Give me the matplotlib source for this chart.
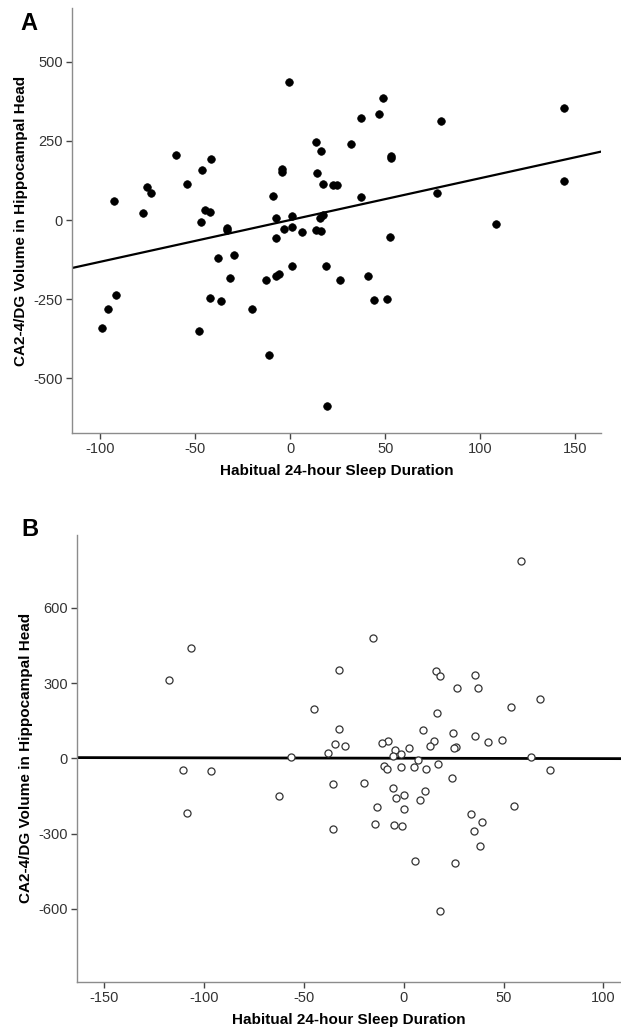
import matplotlib
matplotlib.use("Agg")
import matplotlib.pyplot as plt
import numpy as np

plt.rcParams['axes.unicode_minus'] = False

# ---------------- Panel A data ----------------
a_x = [-92.6, -77.3, -75.5, -73.4, -60.0, -54.4, -46.2, -46.6, -44.7, -42.0,
       -41.4, -33.4, -33.2, -9.1, -7.4, -7.4, -4.5, -4.1, -3.3, -0.8,
       1.0, 1.0, 6.4, 13.6, 14.2, 13.6, 16.3, 16.5, 17.5, 15.9,
       17.3, 22.5, 24.7, 31.8, 37.1, 37.1, 46.6, 49.1, 52.6, 53.2,
       53.2, 77.5, 79.2, 108.2, 144.1, 144.3,
       -37.7, -29.5, 1.0, 18.8, -31.8, -12.6, -7.4, -6.0, 26.4, 41.0,
       -91.8, -95.7, -98.8, -42.0, -36.3, -20.2, -47.8, -11.1, 44.3, 51.1,
       19.6]
a_y = [59.5, 23, 103, 84.6, 203.6, 113.8, 156.6, -6, 32, 25,
       194, -24, -31, 77, 7, -58, 161, 150, -29, 434,
       12.5, -22, -36.5, 245, 149, -32, -34, 217, 113, 5,
       14.6, 111, 111, 241, 321.5, 72, 335, 384, -53, 202.5,
       197, 84.6, 311, -12.5, 354, 123,
       -120, -111.5, -143.7, -144.8, -182, -189.6, -177, -171, -188.5, -176,
       -235.4, -281, -340.6, -247, -255, -280, -350, -427, -253, -248,
       -587.5]
a_fit = (1.32, 0.0)   # slope, intercept
a_xticks = [-100, -50, 0, 50, 100, 150]
a_yticks = [-500, -250, 0, 250, 500]

# ---------------- Panel B data ----------------
b_x = [58.9, -117.4, -106.7, -15.3, -32.5, 16.1, 18.0, 35.5, 26.8, 37.3,
       68.4, 53.9, -45.2, 16.7, -32.5, 9.7, 24.8, 35.7, 15.1, 49.4,
       42.4, -7.7, -10.7, -34.5, -29.5, 12.9, 26.2, 25.0, 2.8, -4.2,
       -1.6, -5.4, -38.0, -56.7, 63.6, 7.1,
       -110.4, -96.4, -9.7, -8.3, -1.2, 5.0, 10.9, 17.0, 73.0, 24.0,
       -35.3, -20.0, -5.2, 10.7, -62.6, 0.2, -4.0, 7.9, 55.3, -108.8,
       -13.5, 0.2, 33.7, 39.1, -14.5, -5.0, -1.0, -35.3, 35.3, 38.1,
       5.4, 25.8, 18.0]
b_y = [787, 312, 439, 479, 353, 350, 329, 330.5, 280, 279,
       235, 206, 195, 179, 118, 114, 99.6, 87.6, 70, 71.7,
       65, 67.7, 59.7, 57, 50.4, 47.8, 45, 40, 42.5, 34.5,
       16, 8, 20, 6.6, 6.6, -6.6,
       -45, -50.4, -30.5, -42.5, -34.5, -35.8, -41, -24, -46.5, -79.6,
       -101, -97, -118, -130, -150, -146, -158, -164.6, -188.5, -216,
       -195, -203, -223, -253.5, -263, -267, -271, -283, -289, -350,
       -410, -417, -607]
b_fit = (-0.015, 0.5)
b_xticks = [-150, -100, -50, 0, 50, 100]
b_yticks = [-600, -300, 0, 300, 600]

xlabel = "Habitual 24-hour Sleep Duration"
ylabel = "CA2-4/DG Volume in Hippocampal Head"

W, H = 621, 1035
fig = plt.figure(figsize=(W / 100, H / 100), dpi=100)

tick_font = ['Liberation Sans Narrow', 'Liberation Sans', 'DejaVu Sans']
lab_font = ['Liberation Sans', 'DejaVu Sans']
spine_col = '#8c8c8c'


def style(ax, xticks, yticks):
    for s in ['top', 'right']:
        ax.spines[s].set_visible(False)
    for s in ['left', 'bottom']:
        ax.spines[s].set_color(spine_col)
        ax.spines[s].set_linewidth(1.0)
    ax.set_xticks(xticks)
    ax.set_yticks(yticks)
    ax.tick_params(direction='out', length=4.5, width=1.0, color='#444444',
                   labelsize=10.5, labelcolor='#333333', pad=2)
    for lab in ax.get_xticklabels() + ax.get_yticklabels():
        lab.set_family(tick_font)
    ax.set_xlabel(xlabel, fontsize=11, fontweight='bold', family=lab_font, labelpad=6)
    ax.set_ylabel(ylabel, fontsize=11, fontweight='bold', family=lab_font, labelpad=4)


# Panel A
axA = fig.add_axes([72 / W, 1 - 433 / H, (601 - 72) / W, (433 - 8) / H])
axA.set_xlim(-114.7, 163.5)
axA.set_ylim(-672, 669)
axA.scatter(a_x, a_y, s=30, c='black', edgecolors='black', linewidths=0.5, zorder=3)
xl = np.array(axA.get_xlim())
axA.plot(xl, a_fit[0] * xl + a_fit[1], color='black', lw=1.6, zorder=2)
style(axA, a_xticks, a_yticks)

# Panel B
axB = fig.add_axes([76.7 / W, 1 - 981.7 / H, (621 - 76.7) / W, (981.7 - 535) / H])
axB.set_xlim(-163.8, 108.8)
axB.set_ylim(-890, 890)
axB.scatter(b_x, b_y, s=26, facecolors='white', edgecolors='#333333', linewidths=0.9, zorder=3)
xl = np.array(axB.get_xlim())
axB.plot(xl, b_fit[0] * xl + b_fit[1], color='black', lw=2.0, zorder=2)
style(axB, b_xticks, b_yticks)

fig.text(29 / W, 1 - 23 / H, "A", fontsize=17, fontweight='bold', family=lab_font,
         ha='center', va='center')
fig.text(30 / W, 1 - 530 / H, "B", fontsize=17, fontweight='bold', family=lab_font,
         ha='center', va='center')

fig.savefig("out.png", dpi=100)
